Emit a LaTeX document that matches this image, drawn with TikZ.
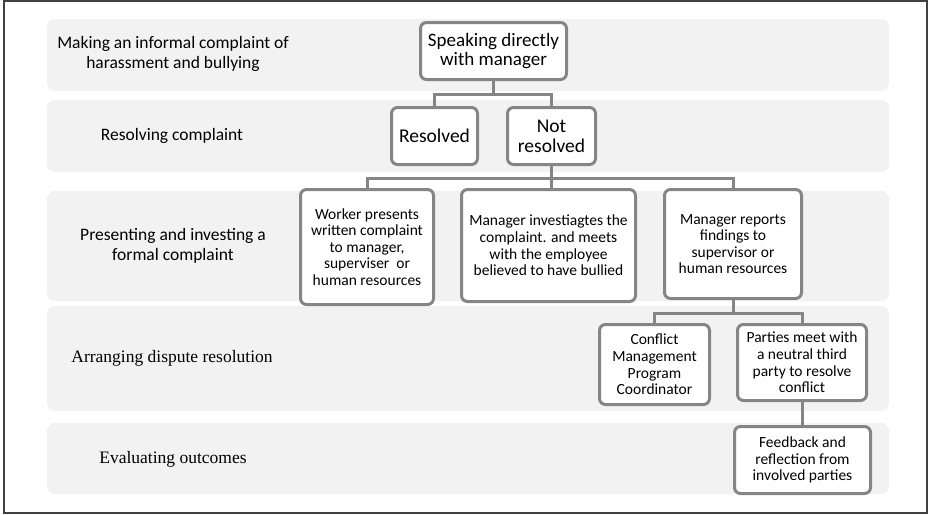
\documentclass[tikz,border=0pt]{standalone}
\usepackage{fontspec}
\setmainfont{Carlito}
\newfontfamily\timesfont{Liberation Serif}
\definecolor{bandfill}{HTML}{F2F2F2}
\definecolor{boxline}{HTML}{858585}
\definecolor{frameline}{HTML}{404040}
\begin{document}
\begin{tikzpicture}[x=1pt,y=-1pt,
  band/.style={fill=bandfill,draw=none,rounded corners=8pt},
  lanelabel/.style={align=center,font=\fontsize{17.5}{20}\selectfont,inner sep=0pt},
  serlabel/.style={align=center,font=\timesfont\fontsize{17.5}{20}\selectfont,inner sep=0pt},
  stepbox/.style={draw=boxline,line width=3pt,fill=white,rounded corners=6pt,
    align=center,inner sep=0pt,font=\fontsize{15.5}{16.6}\selectfont},
  conn/.style={draw=boxline,line width=3pt}]
\useasboundingbox (0,0) rectangle (934,514);
% outer frame
\draw[frameline,line width=1.3pt] (4,1) rectangle (927,513);
% swimlane bands
\fill[band] (47,19) rectangle (889,91);
\fill[band] (47,100) rectangle (889,172);
\fill[band] (47,191) rectangle (889,301);
\fill[band] (47,306) rectangle (889,411);
\fill[band] (47,423) rectangle (889,494);
% lane labels
\node[lanelabel] (l1) at (173,54) {Making an informal complaint of\\harassment and bullying};
\node[lanelabel] (l2) at (172,136) {Resolving complaint};
\node[lanelabel] (l3) at (173,246) {Presenting and investing a\\formal complaint};
\node[serlabel] (l4) at (172,358) {Arranging dispute resolution};
\node[serlabel] (l5) at (173,459) {Evaluating outcomes};
% boxes
\node[stepbox,minimum width=146pt,minimum height=57pt,font=\fontsize{19}{19}\selectfont] (speak) at (493.5,51) {Speaking directly\\with manager};
\node[stepbox,minimum width=86pt,minimum height=57pt,font=\fontsize{19.5}{20}\selectfont] (res) at (434.5,136) {Resolved};
\node[stepbox,minimum width=88pt,minimum height=57pt,font=\fontsize{19.5}{20}\selectfont] (notres) at (551.5,136) {Not\\resolved};
\node[stepbox,minimum width=133pt,minimum height=115pt] (worker) at (367,247) {Worker presents\\written complaint\\to manager,\\superviser\ \ or\\human resources};
\node[stepbox,minimum width=174pt,minimum height=112pt] (invest) at (548.5,245.5) {Manager investiagtes the\\complaint. and meets\\with the employee\\believed to have bullied};
\node[stepbox,minimum width=137pt,minimum height=109pt] (report) at (733,244) {Manager reports\\findings to\\supervisor or\\human resources};
\node[stepbox,minimum width=110pt,minimum height=80pt] (coord) at (654.5,364.5) {Conflict\\Management\\Program\\Coordinator};
\node[stepbox,minimum width=129pt,minimum height=76pt] (parties) at (802,362.5) {Parties meet with\\a neutral third\\party to resolve\\conflict};
\node[stepbox,minimum width=136pt,minimum height=67pt] (feedback) at (802.5,460) {Feedback and\\reflection from\\involved parties};
% bus levels of the tree connectors
\coordinate (bus1) at (0,94);
\coordinate (bus2) at (0,178);
\coordinate (bus3) at (0,313);
% connectors
\draw[conn] (speak.south) -- (speak.south |- bus1) -| (res.north);
\draw[conn] (speak.south |- bus1) -| (notres.north);
\draw[conn] (notres.south) -- (notres.south |- bus2) -| (worker.north);
\draw[conn] (notres.south |- bus2) -| (report.north);
\draw[conn] (notres.south |- bus2) -- (notres.south |- invest.north);
\draw[conn] (report.south) -- (report.south |- bus3) -| (coord.north);
\draw[conn] (report.south |- bus3) -| (parties.north);
\draw[conn] (parties.south) -- (parties.south |- feedback.north);
\end{tikzpicture}
\end{document}
